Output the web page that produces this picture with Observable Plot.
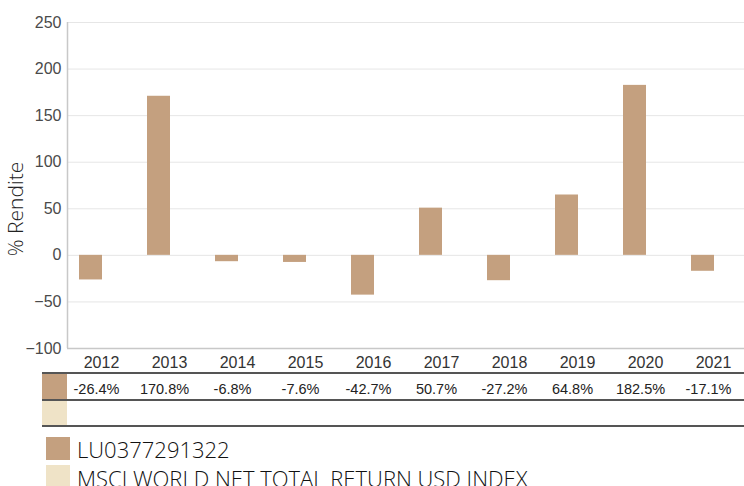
<!DOCTYPE html>
<html>
<head>
<meta charset="utf-8">
<script src="https://cdn.jsdelivr.net/npm/d3@7"></script>
<script src="https://cdn.jsdelivr.net/npm/@observablehq/plot@0.6"></script>
<style>
  html, body { margin: 0; padding: 0; background: #fff; }
  #wrap { position: relative; width: 744px; height: 486px; overflow: hidden; font-family: "Liberation Sans", Arial, sans-serif; }
  .hline { position: absolute; left: 42px; width: 702px; height: 2px; background: #555; }
  .sw { position: absolute; }
  .leg { position: absolute; left: 77px; font-family: "Open Sans", sans-serif; font-weight: 300; font-size: 22px; color: #111; white-space: nowrap; line-height: 1; }
</style>
</head>
<body>
<div id="wrap"></div>
<script>
const years = ["2012","2013","2014","2015","2016","2017","2018","2019","2020","2021"];
const fundValues = [-26.4, 170.8, -6.8, -7.6, -42.7, 50.7, -27.2, 64.8, 182.5, -17.1];
const seriesNames = ["LU0377291322", "MSCI WORLD NET TOTAL RETURN USD INDEX"];
const seriesColors = ["#c4a07f", "#efe3c7"];
const yTicks = [-100, -50, 0, 50, 100, 150, 200, 250];

const data = years.map((y, i) => ({year: y, value: fundValues[i]}));

const wrap = document.getElementById("wrap");

const chart = Plot.plot({
  width: 744,
  height: 373,
  marginTop: 22,
  marginLeft: 67,
  marginRight: -3,
  marginBottom: 25,
  style: {fontFamily: "'Liberation Sans', Arial, sans-serif", fontSize: "16px", color: "#444", background: "#fff"},
  x: {type: "band", domain: years, padding: 0, label: null},
  y: {domain: [-100, 250], label: null},
  marks: [
    Plot.ruleY(yTicks.filter(d => d > -100), {stroke: "#e6e6e6", strokeWidth: 1}),
    Plot.barY(data, {x: "year", y: "value", fill: seriesColors[0], insetLeft: 12, insetRight: 33}),
    Plot.ruleY([-100], {stroke: "#c8c8c8", strokeWidth: 1.5}),
    Plot.ruleX([years[0]], {x: () => years[0], stroke: "#c8c8c8", strokeWidth: 1.5, dx: -34}),
    Plot.axisY({ticks: yTicks, tickSize: 0, tickPadding: 6, fill: "#4a4a4a", fontSize: 16, label: null}),
    Plot.axisX({tickSize: 0, tickPadding: 8, fill: "#333", fontSize: 16, label: null})
  ]
});
chart.style.position = "absolute";
chart.style.left = "0px";
chart.style.top = "0px";
wrap.appendChild(chart);

const tablePlot = Plot.plot({
  width: 744,
  height: 27,
  marginTop: 0,
  marginBottom: 0,
  marginLeft: 67,
  marginRight: -3,
  style: {fontFamily: "'Liberation Sans', Arial, sans-serif", background: "transparent"},
  x: {type: "band", domain: years, padding: 0, axis: null},
  y: {axis: null},
  marks: [
    Plot.text(data, {x: "year", frameAnchor: "middle", text: d => d.value.toFixed(1) + "%", fontSize: 14.5, fill: "#222", dy: 1, dx: -5})
  ]
});
tablePlot.style.position = "absolute";
tablePlot.style.left = "0px";
tablePlot.style.top = "374px";
wrap.appendChild(tablePlot);

function addDiv(cls, css, text) {
  const d = document.createElement("div");
  d.className = cls;
  Object.assign(d.style, css);
  if (text) d.textContent = text;
  wrap.appendChild(d);
  return d;
}
addDiv("", {position: "absolute", left: "15px", top: "209px", transform: "translate(-50%, -50%) rotate(-90deg)", fontSize: "21px", fontWeight: "300", color: "#222", fontFamily: "'Open Sans', sans-serif", whiteSpace: "nowrap", lineHeight: "1"}, "% Rendite");

addDiv("hline", {top: "372px"});
addDiv("hline", {top: "399px"});
addDiv("hline", {top: "425px"});
addDiv("sw", {left: "42px", top: "374px", width: "25px", height: "25px", background: seriesColors[0]});
addDiv("sw", {left: "42px", top: "401px", width: "25px", height: "24px", background: seriesColors[1]});

addDiv("sw", {left: "46px", top: "437px", width: "24px", height: "23px", background: seriesColors[0]});
addDiv("sw", {left: "46px", top: "465px", width: "24px", height: "23px", background: seriesColors[1]});
addDiv("leg", {top: "438px"}, seriesNames[0]);
addDiv("leg", {top: "467px"}, seriesNames[1]);
</script>
</body>
</html>
